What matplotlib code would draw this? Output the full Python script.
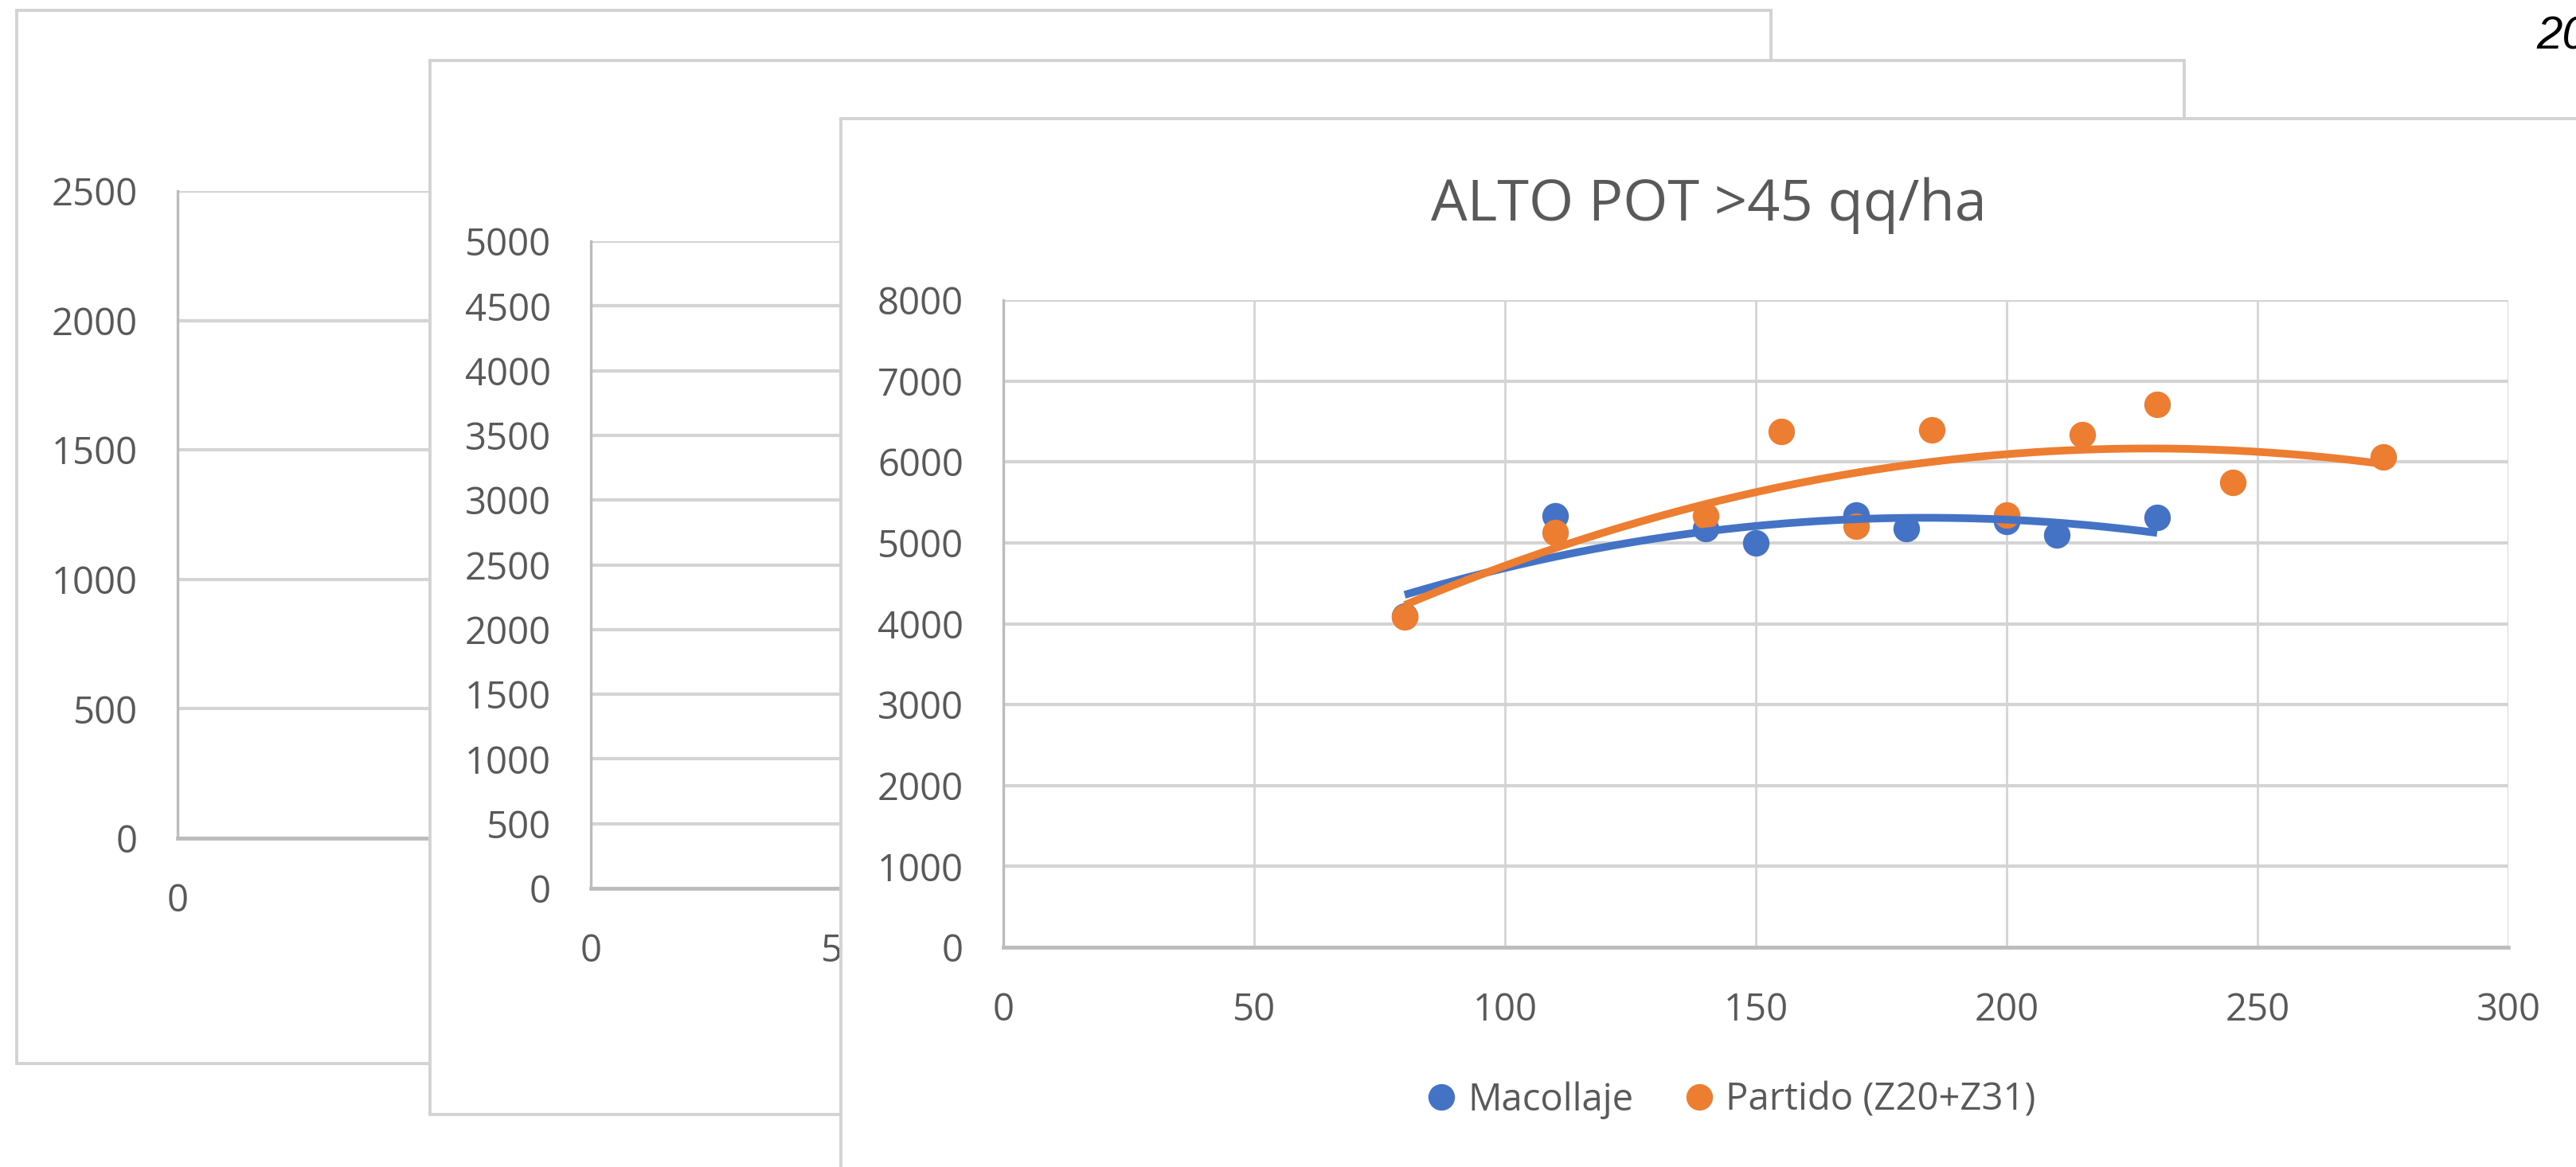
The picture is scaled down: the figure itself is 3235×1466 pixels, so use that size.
import numpy as np
import matplotlib.pyplot as plt
from matplotlib.patches import Rectangle
from matplotlib.lines import Line2D

plt.rcParams['font.family'] = ['Open Sans', 'DejaVu Sans']

# ------------------------------------------
# Datos (kg/ha segun dosis de N)
# ------------------------------------------

dosis_mac = [80, 110, 140, 150, 170, 180, 200, 210, 230]
rinde_mac = [4090, 5330, 5180, 5000, 5340, 5180, 5260, 5100, 5310]

dosis_par = [80, 110, 140, 155, 170, 185, 200, 215, 230, 245, 275]
rinde_par = [4080, 5130, 5330, 6380, 5210, 6400, 5340, 6340, 6710, 5750, 6060]

titulo = "ALTO POT >45 qq/ha"
serie_mac = "Macollaje"
serie_par = "Partido (Z20+Z31)"

ticks_y1 = [0, 500, 1000, 1500, 2000, 2500]
ticks_y2 = [0, 500, 1000, 1500, 2000, 2500, 3000, 3500, 4000, 4500, 5000]
ticks_y3 = [0, 1000, 2000, 3000, 4000, 5000, 6000, 7000, 8000]
ticks_x = [0, 50, 100, 150, 200, 250, 300]

AZUL = '#4472C4'
NARANJA = '#ED7D31'
GRIS_TXT = '#595959'
GRIS_GRID = '#d4d4d4'
GRIS_EJE = '#bcbcbc'

# ------------------------------------------
# Figura (coordenadas en pixeles)
# ------------------------------------------

W, H = 3235, 1466
fig = plt.figure(figsize=(W / 100, H / 100), dpi=100)
fig.patch.set_facecolor('white')


def fx(px):
    return px / W


def fy(py):
    return 1 - py / H


def marco(x0, y0, x1, y1, z):
    r = Rectangle(
        (fx(x0), fy(y1)),
        fx(x1) - fx(x0),
        fy(y0) - fy(y1),
        transform=fig.transFigure,
        facecolor='white',
        edgecolor='#d3d3d3',
        linewidth=2.8,
        zorder=z
    )
    fig.add_artist(r)


def ejes(x0, y0, x1, y1, z, xlim, ylim, yticks, vgrid=True):
    ax = fig.add_axes([fx(x0), fy(y1), fx(x1) - fx(x0), fy(y0) - fy(y1)])
    ax.set_zorder(z)
    ax.patch.set_alpha(0)
    ax.set_xlim(*xlim)
    ax.set_ylim(*ylim)
    ax.set_yticks(yticks)
    ax.set_xticks([t for t in ticks_x if t <= xlim[1]])
    ax.grid(axis='y', color=GRIS_GRID, linewidth=3.0)
    if vgrid:
        ax.grid(axis='x', color=GRIS_GRID, linewidth=2.0)
    ax.set_axisbelow(True)
    for s in ['top', 'right']:
        ax.spines[s].set_visible(False)
    ax.spines['left'].set_color(GRIS_EJE)
    ax.spines['left'].set_linewidth(2.4)
    ax.spines['bottom'].set_color(GRIS_EJE)
    ax.spines['bottom'].set_linewidth(3.4)
    ax.tick_params(axis='y', length=0, pad=36, labelsize=34, labelcolor=GRIS_TXT)
    ax.tick_params(axis='x', length=0, pad=40, labelsize=34, labelcolor=GRIS_TXT)
    return ax


# ------------------------------------------
# Grafico 1 (fondo)
# ------------------------------------------

marco(21, 13, 2224, 1336, 1)
ax1 = ejes(223, 240, 2120, 1053, 2, (0, 250), (0, 2500), ticks_y1, vgrid=False)

# ------------------------------------------
# Grafico 2
# ------------------------------------------

marco(540, 76, 2743, 1400, 3)
ax2 = ejes(742, 303, 2637, 1116, 4, (0, 300), (0, 5000), ticks_y2)

# ------------------------------------------
# Grafico 3: ALTO POT
# ------------------------------------------

marco(1056, 149, W + 60, H + 60, 5)
ax3 = ejes(1260, 377, 3150, 1190, 6, (0, 300), (0, 8000), ticks_y3)

ax3.plot(dosis_mac, rinde_mac, 'o', color=AZUL, ms=24, mew=0, zorder=3)
ax3.plot(dosis_par, rinde_par, 'o', color=NARANJA, ms=24, mew=0, zorder=3)

# linea de tendencia polinomica de orden 2
for xs, ys, col in [(dosis_mac, rinde_mac, AZUL), (dosis_par, rinde_par, NARANJA)]:
    coef = np.polyfit(xs, ys, 2)
    xx = np.linspace(min(xs), max(xs), 200)
    ax3.plot(xx, np.polyval(coef, xx), color=col, linewidth=7,
             solid_capstyle='butt', zorder=4)

fig.text(fx(2146), fy(258), titulo, fontsize=52, color=GRIS_TXT,
         ha='center', va='center', zorder=7)

handles = [
    Line2D([], [], linestyle='none', marker='o', color=AZUL, ms=24, mew=0),
    Line2D([], [], linestyle='none', marker='o', color=NARANJA, ms=24, mew=0),
]
leg = ax3.legend(
    handles, [serie_mac, serie_par],
    loc='center',
    bbox_to_anchor=(fx(2175), fy(1382)),
    bbox_transform=fig.transFigure,
    ncol=2,
    frameon=False,
    fontsize=34,
    labelcolor=GRIS_TXT,
    handlelength=0.7,
    handletextpad=0.35,
    columnspacing=1.4
)

fig.text(fx(3185), fy(62), "20", fontsize=42, style='italic',
         family='Liberation Sans', color='black', ha='left', va='baseline')

fig.savefig('out.png', dpi=100)
